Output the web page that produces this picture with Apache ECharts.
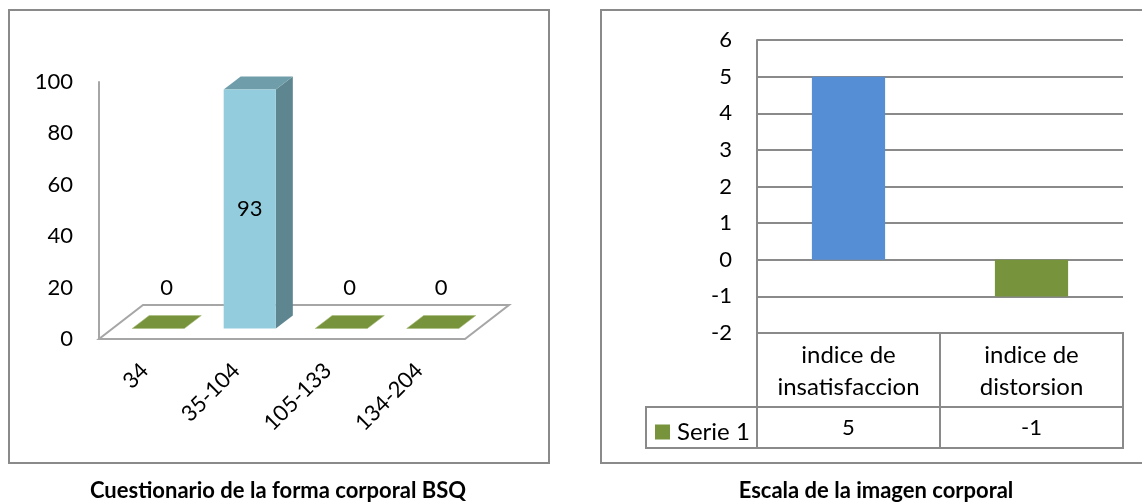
<!DOCTYPE html>
<html>
<head>
<meta charset="utf-8">
<script src="https://cdn.jsdelivr.net/npm/echarts@6/dist/echarts.min.js"></script>
<style>
html,body{margin:0;padding:0;background:#fff;}
#c{width:1142px;height:502px;}
</style>
</head>
<body>
<div id="c"></div>
<script>
// ---- data ----
const bsqCategories = ['34', '35-104', '105-133', '134-204'];
const bsqValues = [0, 93, 0, 0];
const bsqTicks = { min: 0, max: 100, interval: 20 };

const escCategories = ['indice de\ninsatisfaccion', 'indice de\ndistorsion'];
const escValues = [5, -1];
const escSeriesName = 'Serie 1';
const escTicks = { min: -2, max: 6, interval: 1 };

const leftTitle = 'Cuestionario de la forma corporal BSQ';
const rightTitle = 'Escala de la imagen corporal';

// ---- styles ----
const FONT = 'Lato, "Open Sans", sans-serif';
const GRAY = '#8a8a8a';
const BLUE3D = { front: '#93CDDD', side: '#5E8690', top: '#6F9DAA' };
const GREEN = '#77933C';
const BLUE = '#558ED5';
const zeroColors = ['#77933C', null, '#77933C', '#77933C'];
const NUM_SIZE = 22;
const TXT_SIZE = 24;

const chart = echarts.init(document.getElementById('c'), null, { renderer: 'canvas' });

function bar3d(params, api) {
  const i = api.value(0), v = api.value(1);
  const p0 = api.coord([i, 0]);
  const p1 = api.coord([i, v]);
  const band = api.size([1, 0])[0];
  const bw = band * 0.57;
  const ox = 13.5, oy = 10.5, dx = 17, dy = 13;
  const fx = p0[0] + ox;
  const xl = fx - bw / 2, xr = fx + bw / 2;
  const yb = p0[1] - oy, yt = p1[1] - oy;
  const children = [];
  if (v > 0) {
    children.push({ type: 'polygon', shape: { points: [[xr, yt], [xr + dx, yt - dy], [xr + dx, yb - dy], [xr, yb]] }, style: { fill: BLUE3D.side } });
    children.push({ type: 'polygon', shape: { points: [[xl, yt], [xr, yt], [xr + dx, yt - dy], [xl + dx, yt - dy]] }, style: { fill: BLUE3D.top } });
    children.push({ type: 'rect', shape: { x: xl, y: yt, width: bw, height: yb - yt }, style: { fill: BLUE3D.front } });
    children.push({ type: 'text', x: fx, y: (yt + yb) / 2, style: { text: String(v), fill: '#000', font: NUM_SIZE + 'px ' + FONT, align: 'center', verticalAlign: 'middle' } });
  } else {
    children.push({ type: 'polygon', shape: { points: [[xl, yb], [xr, yb], [xr + dx, yb - dy], [xl + dx, yb - dy]] }, style: { fill: zeroColors[i] || GREEN, stroke: '#a9bd7d', lineWidth: 0.6 } });
    children.push({ type: 'text', x: fx + dx / 2, y: p0[1] - 51, style: { text: String(v), fill: '#000', font: NUM_SIZE + 'px ' + FONT, align: 'center', verticalAlign: 'middle' } });
  }
  return { type: 'group', children };
}

function floor3d(params, api) {
  const cs = params.coordSys;
  const y0 = cs.y + cs.height;
  const x0 = cs.x, x1 = cs.x + cs.width;
  return {
    type: 'polygon',
    shape: { points: [[x0, y0], [x1, y0], [x1 + 44, y0 - 34], [x0 + 44, y0 - 34]] },
    style: { fill: '#fff', stroke: '#a6a6a6', lineWidth: 2 }
  };
}

function dataTable(params, api) {
  const i = api.value(0), v = api.value(1);
  const cs = params.coordSys;
  const y0 = cs.y + cs.height;
  const c = api.coord([i, 0]);
  const band = api.size([1, 0])[0];
  const x0 = c[0] - band / 2;
  const h1 = 74, h2 = 41;
  const line = { stroke: GRAY, lineWidth: 2, fill: null };
  const children = [
    { type: 'rect', shape: { x: x0, y: y0, width: band, height: h1 }, style: line },
    { type: 'rect', shape: { x: x0, y: y0 + h1, width: band, height: h2 }, style: line },
    { type: 'text', x: c[0], y: y0 + h1 + h2 / 2, style: { text: String(v), fill: '#000', font: NUM_SIZE + 'px ' + FONT, align: 'center', verticalAlign: 'middle' } }
  ];
  if (i === 0) {
    children.push({ type: 'rect', shape: { x: cs.x - 111, y: y0 + h1, width: 111, height: h2 }, style: line });
  }
  return { type: 'group', children };
}

const option = {
  animation: false,
  backgroundColor: '#fff',
  textStyle: { fontFamily: FONT },
  title: [
    { text: leftTitle, left: 278, top: 479, padding: 0, textAlign: 'center', textStyle: { fontFamily: FONT, fontWeight: 'bold', fontSize: 22, lineHeight: 23, color: '#000' } },
    { text: rightTitle, left: 876, top: 479, padding: 0, textAlign: 'center', textStyle: { fontFamily: FONT, fontWeight: 'bold', fontSize: 22, lineHeight: 23, color: '#000' } }
  ],
  graphic: [
    { type: 'rect', shape: { x: 9, y: 10, width: 540, height: 453 }, style: { fill: null, stroke: GRAY, lineWidth: 2 }, silent: true, z: -10 },
    { type: 'rect', shape: { x: 601, y: 10, width: 560, height: 453 }, style: { fill: null, stroke: GRAY, lineWidth: 2 }, silent: true, z: -10 }
  ],
  legend: {
    data: [escSeriesName],
    left: 655, top: 420, padding: 0,
    icon: 'rect', itemWidth: 15, itemHeight: 15, itemGap: 0,
    textStyle: { fontFamily: FONT, fontSize: TXT_SIZE, color: '#000', padding: [0, 0, 0, 2] },
    selectedMode: false
  },
  grid: [
    { left: 99, top: 82, width: 366, height: 257 },
    { left: 757, top: 40, width: 366, height: 293 }
  ],
  xAxis: [
    {
      gridIndex: 0, type: 'category', data: bsqCategories,
      axisLine: { show: false }, axisTick: { show: false },
      axisLabel: { interval: 0, rotate: 45, margin: 28, fontSize: NUM_SIZE, fontFamily: FONT, color: '#000' }
    },
    {
      gridIndex: 1, type: 'category', data: escCategories,
      axisLine: { show: false }, axisTick: { show: false },
      axisLabel: { interval: 0, hideOverlap: false, margin: 6, fontSize: TXT_SIZE, lineHeight: 32, fontFamily: FONT, color: '#000' }
    }
  ],
  yAxis: [
    {
      gridIndex: 0, type: 'value', min: bsqTicks.min, max: bsqTicks.max, interval: bsqTicks.interval,
      axisLine: { show: true, lineStyle: { color: '#a6a6a6', width: 2 } },
      axisTick: { show: false }, splitLine: { show: false },
      axisLabel: { margin: 26, fontSize: NUM_SIZE, fontFamily: FONT, color: '#000' }
    },
    {
      gridIndex: 1, type: 'value', min: escTicks.min, max: escTicks.max, interval: escTicks.interval,
      axisLine: { show: true, lineStyle: { color: GRAY, width: 2 } },
      axisTick: { show: false },
      splitLine: { show: true, lineStyle: { color: GRAY, width: 2 } },
      axisLabel: { margin: 25, fontSize: NUM_SIZE, fontFamily: FONT, color: '#000' }
    }
  ],
  series: [
    { type: 'custom', name: 'floor', xAxisIndex: 0, yAxisIndex: 0, renderItem: floor3d, data: [[0, 0]], z: 1, silent: true },
    { type: 'custom', name: 'bsq', xAxisIndex: 0, yAxisIndex: 0, renderItem: bar3d,
      data: bsqValues.map((v, i) => [i, v]), z: 2, encode: { x: 0, y: 1 } },
    { type: 'bar', name: escSeriesName, xAxisIndex: 1, yAxisIndex: 1,
      itemStyle: { color: GREEN }, barCategoryGap: '60%',
      data: escValues.map((v, i) => i === 0 ? { value: v, itemStyle: { color: BLUE } } : v), z: 3 },
    { type: 'custom', name: 'table', xAxisIndex: 1, yAxisIndex: 1, renderItem: dataTable,
      data: escValues.map((v, i) => [i, v]), z: 4, silent: true, clip: false, encode: { x: 0, y: 1 } }
  ]
};
chart.setOption(option);
</script>
</body>
</html>
